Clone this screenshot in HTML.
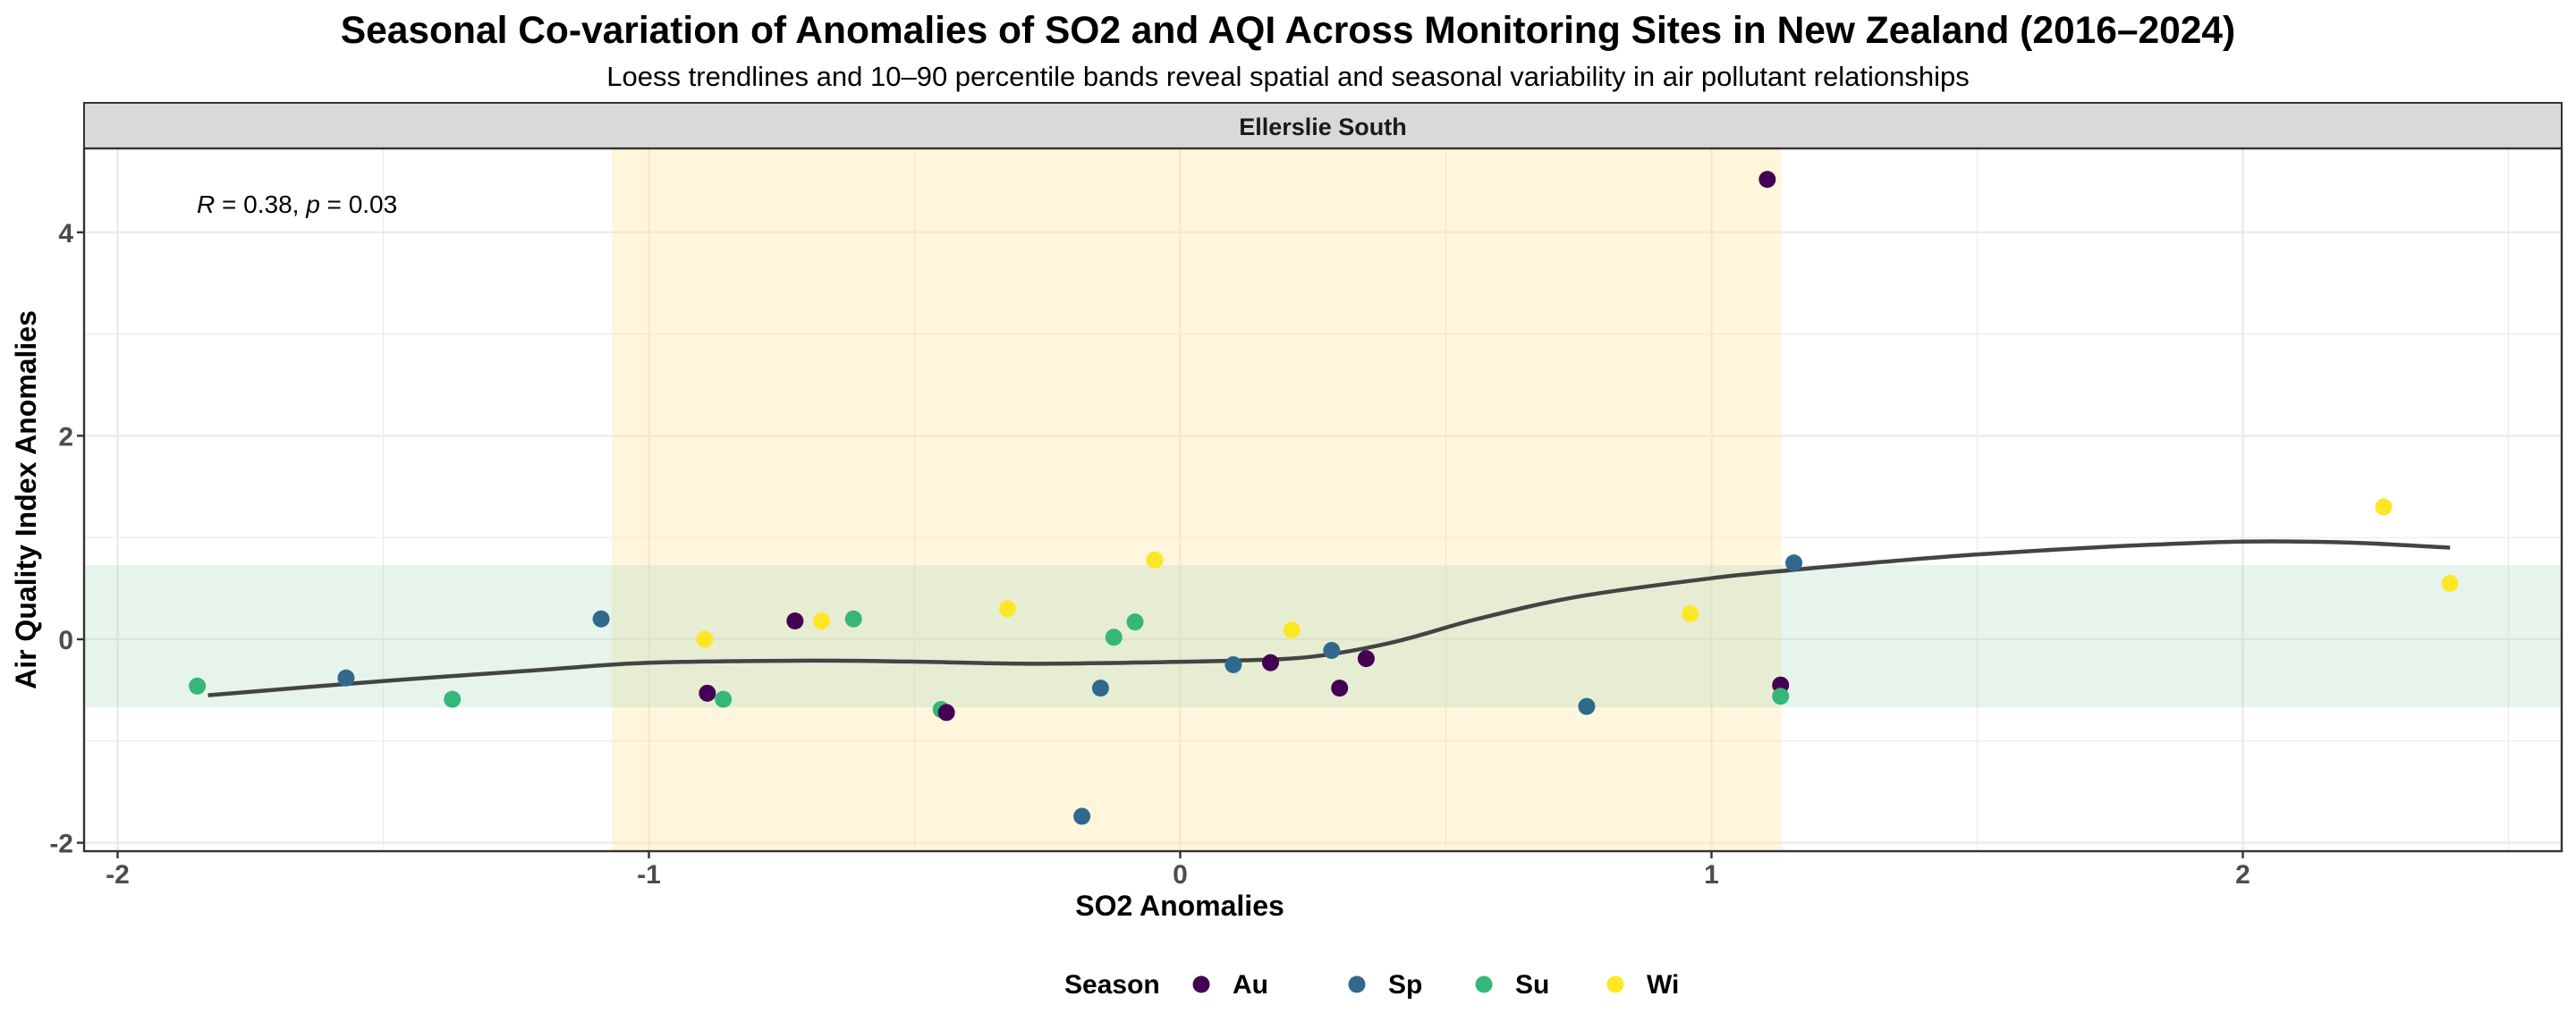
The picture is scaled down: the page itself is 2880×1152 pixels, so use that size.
<!DOCTYPE html>
<html><head><meta charset="utf-8"><style>
html,body{margin:0;padding:0;background:#fff;}
svg{display:block;font-family:"Liberation Sans",Arial,sans-serif;}
</style></head><body>
<svg id="chart" width="2880" height="1152" viewBox="0 0 2880 1152" xmlns="http://www.w3.org/2000/svg">
<rect width="2880" height="1152" fill="#fff"/>
<text x="1440" y="48" text-anchor="middle" font-size="42.5" font-weight="bold" fill="#000">Seasonal Co-variation of Anomalies of SO2 and AQI Across Monitoring Sites in New Zealand (2016–2024)</text>
<text x="1440" y="96" text-anchor="middle" font-size="31" fill="#000">Loess trendlines and 10–90 percentile bands reveal spatial and seasonal variability in air pollutant relationships</text>
<rect x="94" y="115" width="2770" height="51" fill="#D9D9D9" stroke="#333" stroke-width="2"/>
<text x="1479" y="151" text-anchor="middle" font-size="27" font-weight="bold" fill="#1A1A1A">Ellerslie South</text>
<g id="plot"></g>
<text transform="translate(40,559) rotate(-90)" text-anchor="middle" font-size="32" font-weight="bold" fill="#000">Air Quality Index Anomalies</text>
<text x="1319" y="1024" text-anchor="middle" font-size="32" font-weight="bold" fill="#000">SO2 Anomalies</text>
<g id="legend">
<text x="1190" y="1111" font-size="30" font-weight="bold" fill="#000">Season</text>
</g>
</svg>
<script>
const seasons = ["Au","Sp","Su","Wi"];
const seasonColors = ["#440154","#31688E","#35B779","#FDE725"];
const xTicks = [-2,-1,0,1,2];
const yTicks = [-2,0,2,4];
const pointSeason = ["Su","Sp","Su","Sp","Wi","Au","Su","Au","Wi","Su","Su","Au","Wi","Sp","Sp","Su","Su","Wi","Sp","Au","Wi","Sp","Au","Au","Sp","Wi","Au","Au","Su","Sp","Wi","Wi"];
const pointX = [-1.85,-1.57,-1.37,-1.09,-0.895,-0.89,-0.86,-0.725,-0.675,-0.615,-0.45,-0.44,-0.325,-0.185,-0.15,-0.125,-0.085,-0.048,0.10,0.17,0.21,0.285,0.30,0.35,0.765,0.96,1.105,1.13,1.13,1.155,2.265,2.39];
const pointY = [-0.46,-0.38,-0.59,0.20,0.0,-0.53,-0.59,0.18,0.18,0.20,-0.69,-0.72,0.30,-1.74,-0.48,0.02,0.17,0.78,-0.25,-0.23,0.09,-0.11,-0.48,-0.19,-0.66,0.25,4.52,-0.45,-0.56,0.75,1.30,0.55];
const loessX = [-1.83,-1.5,-1.2,-1.0,-0.7,-0.5,-0.3,-0.1,0.1,0.25,0.4,0.56,0.75,1.0,1.15,1.3,1.49,1.75,2.0,2.2,2.39];
const loessY = [-0.55,-0.41,-0.30,-0.23,-0.21,-0.22,-0.24,-0.23,-0.21,-0.17,-0.03,0.20,0.42,0.60,0.68,0.75,0.83,0.91,0.96,0.95,0.90];
const bandX = [-1.07,1.132];
const bandY = [-0.67,0.73];

const PL=94, PR=2864, PT=166, PB=952;
const X0=1319.5, XU=594, Y0=715, YU=113.8;
const sx = v => X0 + v*XU;
const sy = v => Y0 - v*YU;
const NS="http://www.w3.org/2000/svg";
const plot=document.getElementById('plot');
function mk(tag, attrs, parent){const e=document.createElementNS(NS,tag);for(const k in attrs)e.setAttribute(k,attrs[k]);(parent||plot).appendChild(e);return e;}

let e=mk('rect',{x:PL,y:PT,width:PR-PL,height:PB-PT,fill:'#fff'});


for(let v=-2.5; v<=2.6; v+=1){ if(sx(v)>PL&&sx(v)<PR){e=mk('line',{x1:sx(v),x2:sx(v),y1:PT,y2:PB,stroke:'#EBEBEB','stroke-width':1.2});

}}
for(let v=-1; v<=5; v+=2){ if(sy(v)>PT&&sy(v)<PB){e=mk('line',{x1:PL,x2:PR,y1:sy(v),y2:sy(v),stroke:'#EBEBEB','stroke-width':1.2});

}}
xTicks.forEach(v=>{e=mk('line',{x1:sx(v),x2:sx(v),y1:PT,y2:PB,stroke:'#EBEBEB','stroke-width':2.4});

});
yTicks.forEach(v=>{e=mk('line',{x1:PL,x2:PR,y1:sy(v),y2:sy(v),stroke:'#EBEBEB','stroke-width':2.4});

});
e=mk('rect',{x:sx(bandX[0]),y:PT,width:sx(bandX[1])-sx(bandX[0]),height:PB-PT,fill:'#FFE699','fill-opacity':0.35});


e=mk('rect',{x:PL,y:sy(bandY[1]),width:PR-PL,height:sy(bandY[0])-sy(bandY[1]),fill:'#A8D8B9','fill-opacity':0.28});


// smooth loess via Catmull-Rom
const P=loessX.map((v,i)=>[sx(v),sy(loessY[i])]);
let d='M'+P[0][0].toFixed(1)+','+P[0][1].toFixed(1);
for(let i=0;i<P.length-1;i++){const p0=P[Math.max(0,i-1)],p1=P[i],p2=P[i+1],p3=P[Math.min(P.length-1,i+2)];
const c1=[p1[0]+(p2[0]-p0[0])/6,p1[1]+(p2[1]-p0[1])/6],c2=[p2[0]-(p3[0]-p1[0])/6,p2[1]-(p3[1]-p1[1])/6];
d+='C'+c1[0].toFixed(1)+','+c1[1].toFixed(1)+' '+c2[0].toFixed(1)+','+c2[1].toFixed(1)+' '+p2[0].toFixed(1)+','+p2[1].toFixed(1);}
e=mk('path',{d:d,fill:'none',stroke:'#444','stroke-width':4.5,'stroke-linejoin':'round'});


pointX.forEach((v,i)=>{const c=seasonColors[seasons.indexOf(pointSeason[i])];
e=mk('circle',{cx:sx(v),cy:sy(pointY[i]),r:9.5,fill:c});

});
e=mk('text',{x:220,y:238,'font-size':28,fill:'#000'});
e.innerHTML='<tspan font-style="italic">R</tspan> = 0.38, <tspan font-style="italic">p</tspan> = 0.03';


e=mk('rect',{x:PL,y:PT,width:PR-PL,height:PB-PT,fill:'none',stroke:'#333','stroke-width':2.4});


xTicks.forEach(v=>{e=mk('line',{x1:sx(v),x2:sx(v),y1:PB,y2:PB+8,stroke:'#333','stroke-width':2.4});


e=mk('text',{x:sx(v),y:PB+36,'text-anchor':'middle','font-size':30,'font-weight':'bold',fill:'#4D4D4D'});
e.textContent=v;

});
yTicks.forEach(v=>{e=mk('line',{x1:PL-8,x2:PL,y1:sy(v),y2:sy(v),stroke:'#333','stroke-width':2.4});


e=mk('text',{x:PL-12,y:sy(v)+11,'text-anchor':'end','font-size':30,'font-weight':'bold',fill:'#4D4D4D'});
e.textContent=v;

});
const lg=document.getElementById('legend');
const legDot=[1343,1517,1659,1806];
seasons.forEach((s,i)=>{e=mk('circle',{cx:legDot[i],cy:1101,r:9.5,fill:seasonColors[i]},lg);


e=mk('text',{x:legDot[i]+35,y:1111,'font-size':30,'font-weight':'bold',fill:'#000'},lg);
e.textContent=s;

});
</script>
</body></html>
